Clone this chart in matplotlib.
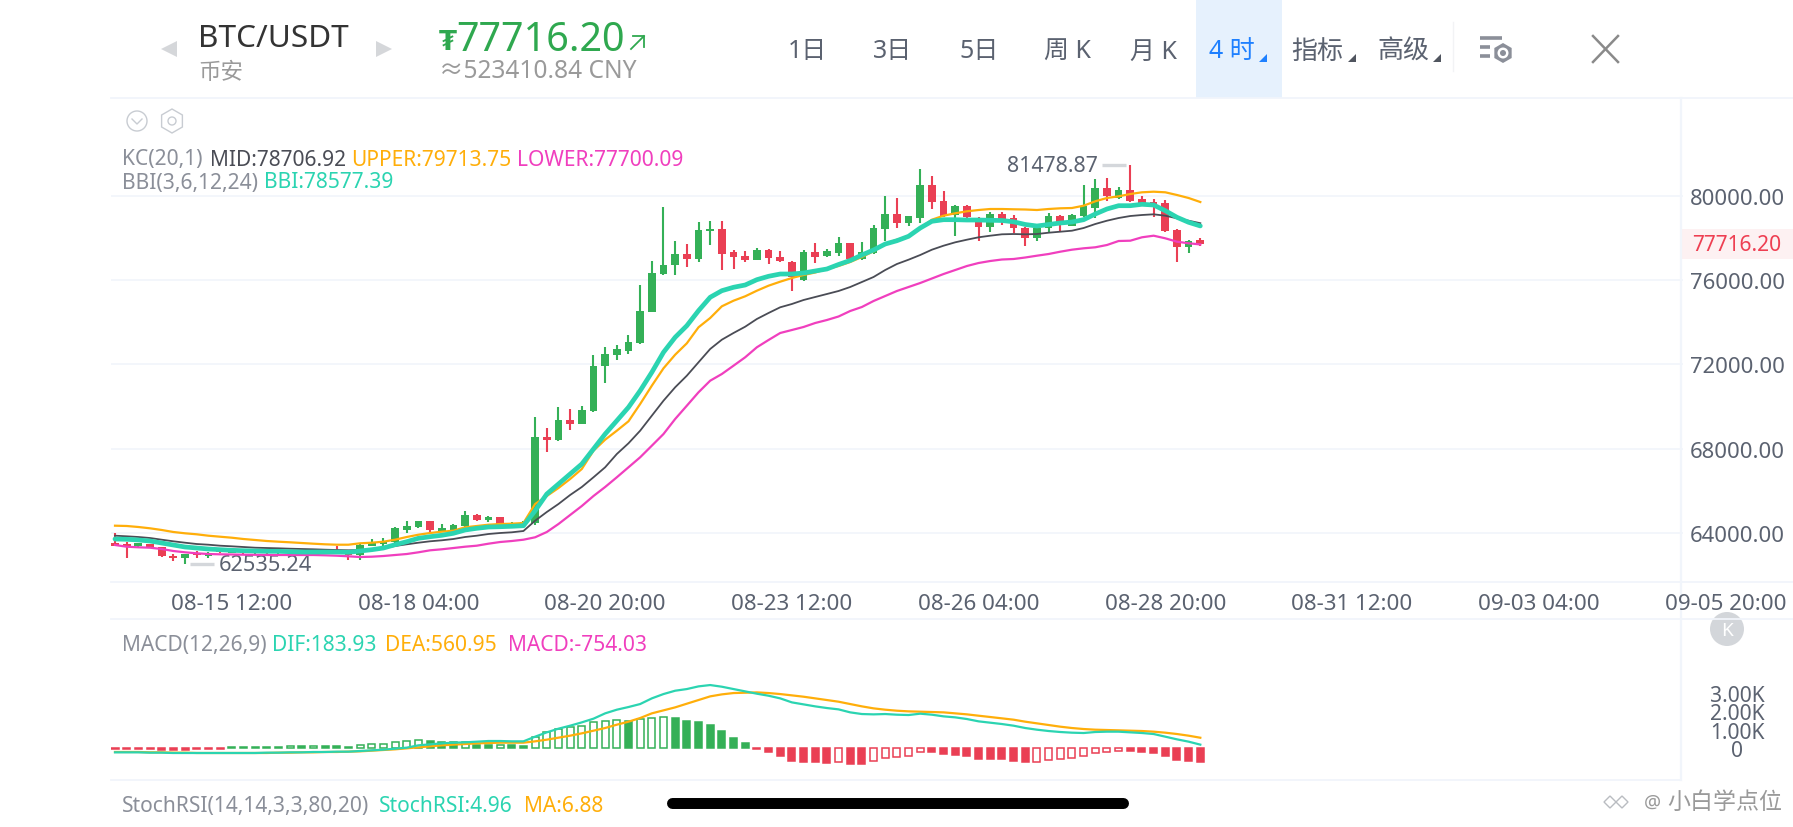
import matplotlib
matplotlib.use('Agg')
import numpy as np
import matplotlib.pyplot as plt
from matplotlib.patches import Rectangle, Polygon, Circle, RegularPolygon
from matplotlib.ticker import FuncFormatter

plt.rcParams['font.family'] = ['Noto Sans', 'Noto Sans CJK SC', 'DejaVu Sans']

OPEN = [63517, 63493, 63360, 63470, 63313, 62914, 62819, 63028, 62914, 63137,
        63060, 63125, 63050, 63115, 63045, 63060, 63115, 63055, 63120, 63150,
        63042, 62947, 63389, 63470, 63550, 64135, 64263, 64548, 64101, 64149,
        64310, 64861, 64610, 64738, 64372, 64420, 64467, 68566, 68410, 69345,
        69170, 69773, 71910, 72447, 72651, 73017, 74490, 76295, 76708, 77245,
        77007, 78323, 78446, 77325, 77164, 76960, 77449, 77116, 76865, 76010,
        77354, 77135, 77292, 77767, 77007, 77292, 78432, 79145, 78717, 78955,
        80522, 79748, 79097, 79539, 78940, 78513, 79145, 78940, 78494, 77990,
        78465, 79063, 78589, 79063, 79415, 80365, 79890, 80299, 79857, 79700,
        79653, 78385, 77563, 77910]
HIGH = [63992, 63541, 63517, 63493, 63327, 62980, 62995, 63115, 63090, 63200,
        63200, 63180, 63170, 63170, 63150, 63160, 63150, 63170, 63170, 63390,
        63090, 63470, 63707, 63755, 64277, 64576, 64585, 64585, 64420, 64420,
        65051, 64895, 64818, 64752, 64515, 64562, 69488, 68965, 69963, 69882,
        70010, 72461, 72813, 72936, 73397, 75772, 76897, 79491, 77876, 77720,
        78750, 78826, 78812, 77449, 77373, 77544, 77482, 77401, 76926, 77411,
        77767, 77482, 78066, 77790, 77800, 78622, 80014, 79890, 79063, 81282,
        80936, 80251, 79572, 79572, 78988, 79225, 79225, 79111, 78527, 78480,
        79192, 79097, 79145, 80536, 80807, 80855, 80413, 81478.87, 80014, 79857,
        79824, 78432, 77886, 78005]
LOW = [63375, 62805, 63327, 63280, 62852, 62676, 62535.24, 62805, 62790, 63020,
       63020, 62990, 63000, 63010, 63000, 63020, 63020, 63020, 63040, 63060,
       62710, 62710, 63375, 63389, 63422, 63990, 64230, 64040, 64040, 64087,
       64277, 64585, 64528, 64372, 64325, 64372, 64372, 67825, 68385, 68899,
       69146, 69740, 71117, 72210, 72480, 72993, 74466, 76247, 76261, 76641,
       76865, 77686, 76499, 76532, 76879, 76936, 76769, 76850, 75487, 75962,
       76817, 77102, 77164, 76983, 76960, 77245, 77876, 78480, 78589, 78703,
       79382, 78988, 78113, 78764, 77876, 78304, 78636, 78242, 77639, 77876,
       78242, 78337, 78589, 78982, 78940, 79776, 79857, 79729, 79539, 78988,
       78304, 76879, 77278, 77639]
CLOSE = [63389, 63398, 63503, 63313, 62886, 62805, 62995, 62947, 62995, 63066,
         63130, 63060, 63120, 63050, 63110, 63120, 63060, 63125, 63070, 63090,
         62947, 63435, 63550, 63612, 64215, 64338, 64548, 64135, 64215, 64372,
         64861, 64610, 64738, 64420, 64467, 64515, 68566, 68410, 69345, 69170,
         69820, 71939, 72480, 72718, 73050, 74523, 76328, 76736, 77245, 77007,
         78370, 78446, 77259, 77116, 76960, 77449, 77055, 76898, 76152, 77354,
         77088, 77387, 77753, 77007, 77354, 78480, 79145, 78717, 79035, 80522,
         79700, 79063, 79539, 78988, 78513, 79145, 78874, 78465, 77990, 78465,
         79063, 78779, 79111, 79510, 80365, 79985, 80299, 79776, 79667, 79463,
         78323, 77563, 77876, 77716.20]

KC_UPPER = [64339, 64325, 64277, 64215, 64135, 64040, 63978, 63930, 63864, 63816,
            63769, 63707, 63660, 63612, 63579, 63550, 63517, 63484, 63455, 63436,
            63436, 63503, 63531, 63579, 63674, 63802, 63911, 63992, 64054, 64101,
            64263, 64325, 64386, 64419, 64434, 64467, 65369, 65749, 66129, 66557,
            67032, 67901, 68424, 68851, 69298, 70119, 70989, 71815, 72461, 73003,
            73763, 74204, 74760, 75026, 75235, 75501, 75739, 75929, 76104, 76247,
            76366, 76532, 76674, 76864, 77102, 77373, 77719, 77924, 78066, 78465,
            78874, 79064, 79178, 79273, 79334, 79382, 79382, 79368, 79358, 79334,
            79382, 79415, 79429, 79539, 79748, 79904, 79985, 80094, 80175, 80204,
            80175, 80047, 79904, 79713.75]
KC_MID = [63864, 63835, 63802, 63754, 63674, 63598, 63531, 63469, 63436, 63389,
          63360, 63327, 63294, 63279, 63265, 63246, 63232, 63218, 63199, 63184,
          63170, 63184, 63218, 63279, 63374, 63455, 63531, 63598, 63645, 63707,
          63802, 63864, 63944, 63992, 64025, 64087, 64576, 64989, 65369, 65797,
          66177, 66638, 67113, 67744, 68253, 68851, 69564, 70276, 70913, 71464,
          72100, 72732, 73174, 73492, 73791, 74157, 74442, 74713, 74869, 75059,
          75202, 75344, 75487, 75677, 75914, 76152, 76484, 76769, 76974, 77197,
          77449, 77639, 77800, 77924, 78038, 78114, 78180, 78194, 78180, 78194,
          78256, 78304, 78351, 78479, 78669, 78826, 78954, 79049, 79097, 79130,
          79064, 78940, 78826, 78706.92]
KC_LOWER = [63422, 63341, 63313, 63294, 63232, 63137, 63075, 63028, 62994, 62980,
            62971, 62961, 62957, 62947, 62947, 62947, 62947, 62947, 62933, 62914,
            62885, 62852, 62866, 62899, 62947, 62994, 63075, 63170, 63218, 63279,
            63341, 63389, 63484, 63564, 63612, 63674, 63788, 64039, 64419, 64847,
            65274, 65749, 66177, 66638, 67113, 67588, 68139, 68694, 69407, 70039,
            70675, 71226, 71544, 71939, 72338, 72813, 73159, 73492, 73634, 73777,
            73967, 74109, 74276, 74537, 74727, 75012, 75249, 75487, 75677, 75867,
            76081, 76294, 76484, 76674, 76817, 76912, 76983, 77007, 77078, 77164,
            77244, 77354, 77449, 77515, 77563, 77672, 77862, 77876, 78038, 78114,
            77990, 77829, 77753, 77700.09]
BBI = [63707, 63693, 63660, 63612, 63517, 63422, 63327, 63279, 63232, 63199,
       63170, 63151, 63137, 63123, 63123, 63104, 63089, 63089, 63089, 63089,
       63075, 63137, 63199, 63279, 63436, 63579, 63740, 63816, 63883, 63978,
       64135, 64215, 64277, 64291, 64310, 64339, 65051, 65844, 66319, 66794,
       67269, 67982, 68694, 69326, 69963, 70751, 71625, 72575, 73288, 73839,
       74551, 75188, 75501, 75663, 75772, 76024, 76185, 76294, 76294, 76342,
       76437, 76532, 76746, 76936, 77197, 77434, 77719, 77876, 78085, 78479,
       78798, 78874, 78874, 78859, 78859, 78845, 78836, 78774, 78646, 78574,
       78646, 78717, 78764, 78874, 79144, 79382, 79539, 79539, 79605, 79572,
       79301, 78988, 78750, 78577.39]

DIF = [-237, -237, -237, -255, -255, -273, -273, -273, -273, -273,
       -273, -273, -273, -255, -255, -237, -237, -218, -218, -200,
       -200, -164, -127, -91, -36, 18, 146, 200, 255, 291,
       309, 346, 382, 382, 364, 364, 619, 855, 1056, 1219,
       1401, 1602, 1893, 2093, 2239, 2402, 2712, 2948, 3130, 3221,
       3367, 3440, 3349, 3221, 3094, 2967, 2857, 2712, 2493, 2384,
       2275, 2184, 2111, 1947, 1856, 1838, 1856, 1820, 1802, 1875,
       1820, 1729, 1674, 1583, 1456, 1383, 1310, 1219, 1092, 1001,
       928, 874, 837, 819, 874, 892, 892, 855, 819, 764,
       619, 473, 346, 183.93]
DEA = [-218, -218, -218, -237, -237, -255, -255, -273, -273, -273,
       -273, -273, -273, -273, -255, -255, -237, -237, -218, -218,
       -200, -182, -146, -109, -73, -18, 36, 91, 146, 182,
       218, 255, 273, 291, 291, 291, 364, 455, 564, 673,
       801, 946, 1092, 1274, 1438, 1638, 1893, 2057, 2220, 2421,
       2621, 2821, 2930, 3003, 3021, 3039, 3003, 2948, 2876, 2803,
       2712, 2621, 2530, 2402, 2275, 2166, 2093, 2038, 2002, 1984,
       1966, 1947, 1893, 1838, 1765, 1693, 1620, 1547, 1438, 1347,
       1256, 1165, 1092, 1037, 1001, 983, 965, 946, 928, 892,
       837, 764, 673, 560.95]
MACD = [-55, -55, -55, -70, -90, -110, -110, -80, -55, -40,
        30, 35, 50, 55, 70, 85, 85, 95, 90, 85,
        80, 180, 218, 237, 309, 382, 419, 400, 346, 309,
        346, 160, 145, 160, 160, 130, 582, 855, 1037, 1128,
        1183, 1401, 1492, 1510, 1456, 1583, 1638, 1674, 1638, 1456,
        1401, 1238, 910, 564, 255, -60, -237, -455, -710, -746,
        -783, -801, -746, -855, -855, -692, -528, -491, -419, -218,
        -218, -328, -364, -455, -582, -582, -619, -692, -764, -746,
        -655, -619, -546, -437, -273, -218, -146, -182, -218, -255,
        -437, -655, -710, -754.03]

PRICE_TICKS = [64000, 68000, 72000, 76000, 80000]
MACD_TICKS = [0, 1000, 2000, 3000]
TIME_TICKS = [10, 26, 42, 58, 74, 90, 106, 122, 138]
TIME_LABELS = ['08-15 12:00', '08-18 04:00', '08-20 20:00', '08-23 12:00', '08-26 04:00',
               '08-28 20:00', '08-31 12:00', '09-03 04:00', '09-05 20:00']
MENU = ['1日', '3日', '5日', '周 K', '月 K']

W, H = 1793, 828
GREEN, RED = '#34b057', '#ea3f54'
TEAL, ORANGE, PINK, DARK = '#2bd4b1', '#ffae0a', '#f03fbe', '#4a4c55'
GRID = '#f1f5fb'
LABEL = '#5b6270'
GREY = '#8b8f99'
X0, STEP = 115, 11.67


def fs(px):
    # text size in pixels -> points
    return px * 0.72


def px_axes(left, top, right, bottom):
    ax = fig.add_axes([left / W, 1 - bottom / H, (right - left) / W, (bottom - top) / H])
    ax.set_facecolor('none')
    for spine in ax.spines.values():
        spine.set_visible(False)
    ax.set_xlim((left - X0) / STEP, (right - X0) / STEP)
    return ax


def plot_candles(ax):
    x = np.arange(len(OPEN))
    opens, closes = np.array(OPEN), np.array(CLOSE)
    colors = [GREEN if c >= o else RED for o, c in zip(opens, closes)]
    ax.vlines(x, LOW, HIGH, color=colors, lw=1.5, zorder=2)
    ax.bar(x, np.abs(closes - opens), bottom=np.minimum(opens, closes), width=0.66,
           color=colors, zorder=3)


def plot_lines(ax):
    x = np.arange(len(KC_MID))
    ax.plot(x, KC_MID, color=DARK, lw=1.3, zorder=4)
    ax.plot(x, KC_UPPER, color=ORANGE, lw=1.6, zorder=5)
    ax.plot(x, KC_LOWER, color=PINK, lw=1.6, zorder=5)
    ax.plot(x, BBI, color=TEAL, lw=3.4, zorder=6, solid_capstyle='round')


def plot_macd(ax):
    x = np.arange(len(MACD))
    for i, val in enumerate(MACD):
        color = GREEN if val >= 0 else RED
        hollow = i > 0 and val > MACD[i - 1]
        ax.bar(i, val, width=0.6, facecolor='white' if hollow else color,
               edgecolor=color, linewidth=1.1, zorder=2)
    ax.plot(x, DEA, color=ORANGE, lw=1.6, zorder=3)
    ax.plot(x, DIF, color=TEAL, lw=1.6, zorder=4)


fig = plt.figure(figsize=(W / 100, H / 100), dpi=100, facecolor='white')

# page furniture in pixel coordinates
ui = fig.add_axes([0, 0, 1, 1])
ui.set_xlim(0, W)
ui.set_ylim(H, 0)
ui.axis('off')

ui.add_patch(Rectangle((1196, 0), 86, 99, color='#e6f1fd', lw=0))
for y in [99, 583, 620]:
    ui.plot([111, W], [y, y], color=GRID, lw=1.3)
ui.plot([111, 1681], [781, 781], color=GRID, lw=1.3)
ui.plot([1681, 1681], [99, 781], color=GRID, lw=1.6)
ui.plot([1453, 1453], [23, 72], color='#f2f3f5', lw=1)

# main chart
ax = px_axes(111, 99, W, 583)
ax.set_ylim(89357 - 47.5 * 583, 89357 - 47.5 * 99)
ax.hlines(PRICE_TICKS, -0.34, 134.4, color=GRID, lw=1.2, zorder=1)
plot_candles(ax)
plot_lines(ax)
ax.set_yticks(PRICE_TICKS)
ax.set_yticklabels([f'{t:.2f}' for t in PRICE_TICKS], fontsize=fs(22), color=LABEL)
ax.tick_params(axis='y', length=0, left=False, labelleft=False, labelright=True, pad=-74)
ax.set_xticks(TIME_TICKS)
ax.set_xticklabels(TIME_LABELS, fontsize=fs(22.3), color=LABEL)
ax.tick_params(axis='x', length=0, pad=8)

# high / low markers
i_hi = int(np.argmax(HIGH))
i_lo = int(np.argmin(LOW))
ax.plot([i_hi - 2.4, i_hi - 0.35], [HIGH[i_hi]] * 2, color='#d4d7db', lw=2.4, zorder=4, solid_capstyle='butt')
ax.text(i_hi - 2.75, HIGH[i_hi] - 50, f'{HIGH[i_hi]:.2f}', ha='right', va='center', fontsize=fs(21.3), color=LABEL)
ax.plot([i_lo + 0.45, i_lo + 2.5], [LOW[i_lo]] * 2, color='#d4d7db', lw=2.4, zorder=1, solid_capstyle='butt')
ax.text(i_lo + 2.85, LOW[i_lo] - 60, f'{LOW[i_lo]:.2f}', ha='left', va='center', fontsize=fs(21.8), color=LABEL)

# last price tag
ui.add_patch(Rectangle((1682, 230), 111, 30, color='#fdf1f2', lw=0))
ax.text(139, CLOSE[-1], f'{CLOSE[-1]:.2f}', ha='center', va='center', fontsize=fs(21), color='#ee3f52')

# MACD panel
mx = px_axes(111, 620, W, 781)
mx.set_ylim((749 - 781) / 18.3 * 1000, (749 - 620) / 18.3 * 1000)
plot_macd(mx)
mx.set_xticks([])
mx.set_yticks(MACD_TICKS)
mx.yaxis.set_major_formatter(FuncFormatter(lambda v, _: '0' if v == 0 else f'{v / 1000:.2f}K'))
mx.tick_params(axis='y', length=0, left=False, labelleft=False, labelright=True, pad=-40,
               labelsize=fs(21), labelcolor=LABEL)
for lab in mx.get_yticklabels():
    lab.set_ha('center')

# indicator legends
legend_rows = [
    (160, [(122, 'KC(20,1)', GREY), (210, 'MID:78706.92', DARK), (351, 'UPPER:79713.75', ORANGE),
           (517, 'LOWER:77700.09', PINK)]),
    (183, [(122, 'BBI(3,6,12,24)', GREY), (264, 'BBI:78577.39', TEAL)]),
    (646, [(122, 'MACD(12,26,9)', GREY), (272, 'DIF:183.93', TEAL), (385, 'DEA:560.95', ORANGE),
           (508, 'MACD:-754.03', PINK)]),
    (807, [(122, 'StochRSI(14,14,3,3,80,20)', GREY), (379, 'StochRSI:4.96', TEAL), (524, 'MA:6.88', ORANGE)]),
]
for y, items in legend_rows:
    for x, txt, col in items:
        ui.text(x, y, txt, color=col, fontsize=fs(21), va='center', ha='left')

# header
ui.add_patch(Polygon([[177, 42], [177, 58], [161, 50]], color='#d5d7da', lw=0))
ui.add_patch(Polygon([[376, 42], [376, 58], [392, 50]], color='#d5d7da', lw=0))
ui.text(198, 39, 'BTC/USDT', fontsize=fs(31.5), color='#333333', va='center', ha='left')
ui.text(198, 73, '币安', fontsize=fs(22.5), color='#9a9a9a', va='center', ha='left')
ui.text(439, 43, '₮', fontsize=fs(26), color='#2fa84f', va='center', ha='left', family='DejaVu Sans', weight='bold')
ui.text(456, 41, '77716.20', fontsize=fs(39.5), color='#2fa84f', va='center', ha='left', weight='medium')
ui.plot([631, 644], [50, 37], color='#2fa84f', lw=1.3)
ui.plot([633, 644, 644], [37, 37, 48], color='#2fa84f', lw=1.3)
ui.text(439, 72, '≈523410.84 CNY', fontsize=fs(24.5), color='#9a9a9a', va='center', ha='left')

# menu
for x, txt in zip([807, 893, 979, 1067, 1153], MENU):
    ui.text(x, 52, txt, fontsize=fs(25), color=LABEL, ha='center', va='center')
ui.text(1232, 52, '4 时', fontsize=fs(25), color='#1e80ff', ha='center', va='center')
ui.text(1317, 52, '指标', fontsize=fs(26), color=LABEL, ha='center', va='center')
ui.text(1403, 52, '高级', fontsize=fs(26), color=LABEL, ha='center', va='center')
for x, col in [(1259, '#1e80ff'), (1348, '#50555f'), (1433, '#50555f')]:
    ui.add_patch(Polygon([[x, 63], [x + 8, 63], [x + 8, 55]], color=col, lw=0))

# settings icon
for y, x1 in [(39, 1502), (48, 1490), (57, 1490)]:
    ui.plot([1480, x1], [y, y], color='#8b8f99', lw=2.6, solid_capstyle='butt')
ui.add_patch(RegularPolygon((1503, 54), 6, radius=10, color='#8b8f99', lw=0))
ui.add_patch(Circle((1503, 54), 5.5, color='white', lw=0))
ui.add_patch(Circle((1503, 54), 3, color='#8b8f99', lw=0))

# close
ui.plot([1593, 1618], [37, 63], color='#8a8a8a', lw=1.8)
ui.plot([1593, 1618], [63, 37], color='#8a8a8a', lw=1.8)

# small icons above the legend
ui.add_patch(Circle((137, 122), 10, fill=False, ec='#c8ccd2', lw=1))
ui.plot([132, 137, 142], [120, 125, 120], color='#c8ccd2', lw=1)
ui.add_patch(RegularPolygon((172, 122), 6, radius=12, fill=False, ec='#c8ccd2', lw=1))
ui.add_patch(Circle((172, 122), 4, fill=False, ec='#c8ccd2', lw=1))

# K button
ui.add_patch(Circle((1727, 630), 17, color='#d3d6da', lw=0))
ui.text(1727, 631, 'K', fontsize=fs(19), color='white', ha='center', va='center', weight='bold')

# home bar
ui.plot([671.5, 1122.5], [804.5, 804.5], color='black', lw=7.9, solid_capstyle='round')

# watermark
for cx in [1610, 1622]:
    ui.add_patch(Polygon([[cx - 6, 803], [cx, 797], [cx + 6, 803], [cx, 809]], fill=False, ec='#b9bcc1', lw=1))
ui.text(1644, 803, '@', fontsize=fs(19), color='#9a9a9a', ha='left', va='center')
ui.text(1667, 803, '小白学点位', fontsize=fs(23), color='#9a9a9a', ha='left', va='center')

fig.savefig('out.png', dpi=100)
